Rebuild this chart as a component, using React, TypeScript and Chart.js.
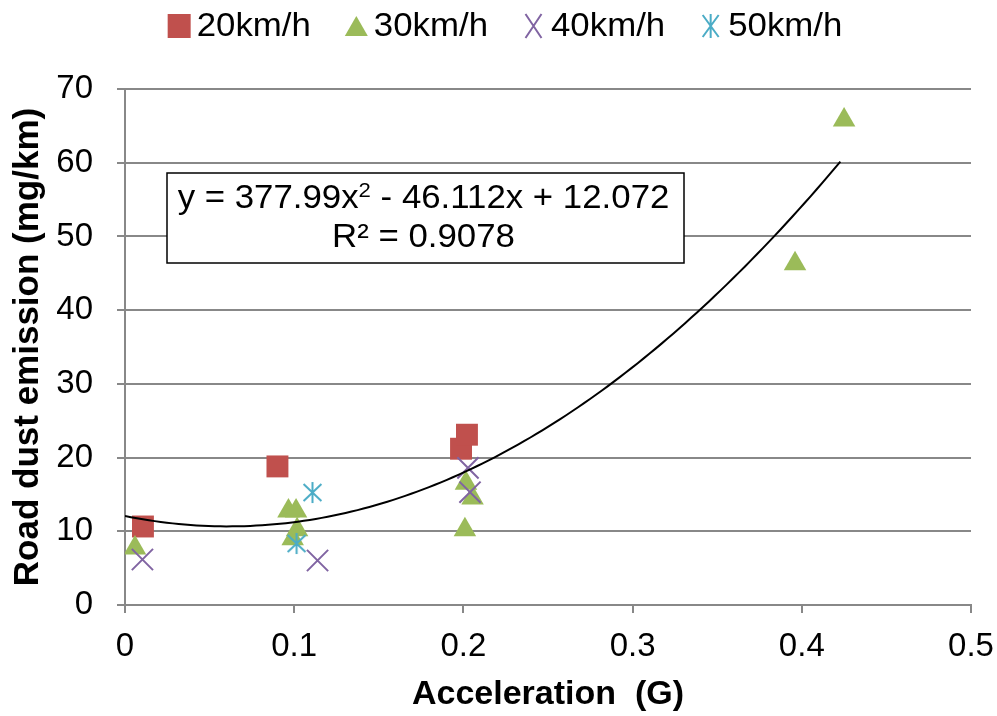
import React, { useEffect, useRef } from 'react';
import { Chart, registerables } from 'chart.js';

Chart.register(...registerables);

// ---- data ----
const SERIES_LABELS = ['20km/h', '30km/h', '40km/h', '50km/h'];
const SERIES_COLORS = ['#C0504D', '#9BBB59', '#8064A2', '#4BACC6'];

const X_20 = [0.0106, 0.0901, 0.1986, 0.2021];
const Y_20 = [10.65, 18.8, 21.2, 23.1];

const X_30 = [0.0059, 0.0966, 0.1011, 0.1017, 0.0991, 0.2015, 0.2054, 0.2009, 0.396, 0.425];
const Y_30 = [7.73, 12.75, 12.75, 10.2, 9.0, 16.5, 14.5, 10.2, 46.3, 65.8];

const X_40 = [0.0103, 0.1138, 0.2027, 0.2039];
const Y_40 = [6.17, 6.04, 18.6, 15.3];

const X_50 = [0.1108, 0.1014];
const Y_50 = [15.26, 8.34];

// trendline: a*x^2 + b*x + c
const TREND_COEFFS = [377.99, -46.112, 12.072];
const TREND_X_RANGE = [0, 0.4228];
const EQ_PARTS = ['y = 377.99x', '2', ' - 46.112x + 12.072'];
const R2_TEXT = 'R² = 0.9078';

const X_TICKS = [0, 0.1, 0.2, 0.3, 0.4, 0.5];
const Y_TICKS = [0, 10, 20, 30, 40, 50, 60, 70];
const X_TITLE = 'Acceleration  (G)';
const Y_TITLE = 'Road dust emission (mg/km)';

const FONT_FAMILY = '"Liberation Sans", Arial, Helvetica, sans-serif';
const GRID_COLOR = '#888888';
const TEXT_STRETCH = 1.055;

function pts(xs: number[], ys: number[]) {
  return xs.map((x, i) => ({ x, y: ys[i] }));
}

function trendPoints() {
  const [a, b, c] = TREND_COEFFS;
  const n = 120;
  const out: { x: number; y: number }[] = [];
  for (let i = 0; i <= n; i++) {
    const x = TREND_X_RANGE[0] + ((TREND_X_RANGE[1] - TREND_X_RANGE[0]) * i) / n;
    out.push({ x, y: a * x * x + b * x + c });
  }
  return out;
}

function makeAsterisk(color: string, size: number, lw: number) {
  const c = document.createElement('canvas');
  c.width = size;
  c.height = size;
  const ctx = c.getContext('2d')!;
  ctx.strokeStyle = color;
  ctx.lineWidth = lw;
  const h = size / 2;
  const r = h - 1;
  ctx.beginPath();
  ctx.moveTo(h, h - r);
  ctx.lineTo(h, h + r);
  ctx.moveTo(h - r * 0.85, h - r * 0.8);
  ctx.lineTo(h + r * 0.85, h + r * 0.8);
  ctx.moveTo(h + r * 0.85, h - r * 0.8);
  ctx.lineTo(h - r * 0.85, h + r * 0.8);
  ctx.stroke();
  return c;
}

function drawLegendMarker(ctx: CanvasRenderingContext2D, i: number, cx: number, cy: number) {
  const col = SERIES_COLORS[i];
  ctx.save();
  ctx.fillStyle = col;
  ctx.strokeStyle = col;
  ctx.lineWidth = 2;
  if (i === 0) {
    ctx.fillRect(cx - 11.5, cy - 12, 23, 24);
  } else if (i === 1) {
    ctx.beginPath();
    ctx.moveTo(cx, cy - 10);
    ctx.lineTo(cx + 11.5, cy + 10);
    ctx.lineTo(cx - 11.5, cy + 10);
    ctx.closePath();
    ctx.fill();
  } else if (i === 2) {
    ctx.beginPath();
    ctx.moveTo(cx - 8, cy - 12);
    ctx.lineTo(cx + 8, cy + 12);
    ctx.moveTo(cx + 8, cy - 12);
    ctx.lineTo(cx - 8, cy + 12);
    ctx.stroke();
  } else {
    ctx.beginPath();
    ctx.moveTo(cx, cy - 12);
    ctx.lineTo(cx, cy + 12);
    ctx.moveTo(cx - 8, cy - 11);
    ctx.lineTo(cx + 8, cy + 11);
    ctx.moveTo(cx + 8, cy - 11);
    ctx.lineTo(cx - 8, cy + 11);
    ctx.stroke();
  }
  ctx.restore();
}

function stretchedText(ctx: CanvasRenderingContext2D, text: string, x: number, y: number) {
  ctx.save();
  ctx.translate(x, y);
  ctx.scale(TEXT_STRETCH, 1);
  ctx.fillText(text, 0, 0);
  ctx.restore();
}

const legendPlugin = {
  id: 'customLegend',
  afterDraw(chart: any) {
    const ctx: CanvasRenderingContext2D = chart.ctx;
    ctx.save();
    ctx.font = `33px ${FONT_FAMILY}`;
    ctx.fillStyle = '#000';
    ctx.textBaseline = 'middle';
    ctx.textAlign = 'left';
    const markerW = 23;
    const gapMT = 6;
    const gapItems = 34;
    const widths = SERIES_LABELS.map((l) => ctx.measureText(l).width * TEXT_STRETCH);
    const total =
      widths.reduce((a, w) => a + markerW + gapMT + w, 0) + gapItems * (SERIES_LABELS.length - 1);
    let x = 505 - total / 2;
    const cy = 26;
    SERIES_LABELS.forEach((label, i) => {
      drawLegendMarker(ctx, i, x + markerW / 2, cy);
      stretchedText(ctx, label, x + markerW + gapMT, cy + 1);
      x += markerW + gapMT + widths[i] + gapItems;
    });
    ctx.restore();
  },
};

const equationPlugin = {
  id: 'equationBox',
  afterDatasetsDraw(chart: any) {
    const ctx: CanvasRenderingContext2D = chart.ctx;
    const ca = chart.chartArea;
    const left = ca.left + 42;
    const top = ca.top + 84;
    const w = 517;
    const h = 90;
    ctx.save();
    ctx.fillStyle = '#ffffff';
    ctx.fillRect(left, top, w, h);
    ctx.strokeStyle = '#000000';
    ctx.lineWidth = 1.5;
    ctx.strokeRect(left, top, w, h);

    const mainFont = `33px ${FONT_FAMILY}`;
    const supFont = `21px ${FONT_FAMILY}`;
    ctx.fillStyle = '#000';
    ctx.textBaseline = 'alphabetic';
    ctx.textAlign = 'left';
    ctx.font = mainFont;
    const w1 = ctx.measureText(EQ_PARTS[0]).width * TEXT_STRETCH;
    const w3 = ctx.measureText(EQ_PARTS[2]).width * TEXT_STRETCH;
    ctx.font = supFont;
    const w2 = ctx.measureText(EQ_PARTS[1]).width * TEXT_STRETCH;
    const cx = left + w / 2 - 2;
    let x = cx - (w1 + w2 + w3) / 2;
    const base1 = top + 35;
    ctx.font = mainFont;
    stretchedText(ctx, EQ_PARTS[0], x, base1);
    x += w1;
    ctx.font = supFont;
    stretchedText(ctx, EQ_PARTS[1], x, base1 - 11);
    x += w2;
    ctx.font = mainFont;
    stretchedText(ctx, EQ_PARTS[2], x, base1);

    const wr = ctx.measureText(R2_TEXT).width * TEXT_STRETCH;
    stretchedText(ctx, R2_TEXT, cx - wr / 2, top + 74);
    ctx.restore();
  },
};

export default function App() {
  const ref = useRef<HTMLCanvasElement | null>(null);

  useEffect(() => {
    document.body.style.margin = '0';
    const canvas = ref.current;
    if (!canvas) return;
    const asterisk = makeAsterisk(SERIES_COLORS[3], 23, 2);

    const chart = new Chart(canvas, {
      type: 'scatter',
      data: {
        datasets: [
          {
            label: 'trend',
            data: trendPoints(),
            showLine: true,
            borderColor: '#000000',
            borderWidth: 2,
            pointRadius: 0,
            fill: false,
            order: 0,
          } as any,
          {
            label: SERIES_LABELS[0],
            data: pts(X_20, Y_20),
            pointStyle: 'rect',
            pointRadius: 15.5,
            backgroundColor: SERIES_COLORS[0],
            borderColor: SERIES_COLORS[0],
            borderWidth: 0,
            order: 4,
          },
          {
            label: SERIES_LABELS[1],
            data: pts(X_30, Y_30),
            pointStyle: 'triangle',
            pointRadius: 13,
            backgroundColor: SERIES_COLORS[1],
            borderColor: SERIES_COLORS[1],
            borderWidth: 0,
            order: 3,
          },
          {
            label: SERIES_LABELS[2],
            data: pts(X_40, Y_40),
            pointStyle: 'crossRot',
            pointRadius: 15,
            backgroundColor: SERIES_COLORS[2],
            borderColor: SERIES_COLORS[2],
            borderWidth: 2,
            order: 2,
          },
          {
            label: SERIES_LABELS[3],
            data: pts(X_50, Y_50),
            pointStyle: asterisk as any,
            pointRadius: 11,
            backgroundColor: SERIES_COLORS[3],
            borderColor: SERIES_COLORS[3],
            borderWidth: 2,
            order: 1,
          },
        ],
      },
      options: {
        animation: false,
        responsive: false,
        events: [],
        layout: { padding: { top: 89, right: 26, left: 0, bottom: 0 } },
        plugins: {
          legend: { display: false },
          tooltip: { enabled: false },
          title: { display: false },
        },
        scales: {
          x: {
            type: 'linear',
            min: X_TICKS[0],
            max: X_TICKS[X_TICKS.length - 1],
            afterBuildTicks: (scale: any) => {
              scale.ticks = X_TICKS.map((v) => ({ value: v }));
            },
            afterFit: (scale: any) => {
              scale.height = 111;
              scale.paddingRight = 20;
              scale.paddingLeft = 0;
            },
            ticks: {
              color: '#000',
              padding: 14,
              font: { family: FONT_FAMILY, size: 33 },
              callback: (v: any) => String(Math.round(Number(v) * 10) / 10),
              maxRotation: 0,
            },
            grid: {
              display: true,
              drawOnChartArea: false,
              drawTicks: true,
              tickLength: 8,
              color: GRID_COLOR,
              lineWidth: 2,
            },
            border: { display: true, color: GRID_COLOR, width: 2 },
            title: {
              display: true,
              text: X_TITLE,
              color: '#000',
              font: { family: FONT_FAMILY, size: 34, weight: 'bold' },
              padding: { top: 0, bottom: 1 },
            },
          },
          y: {
            type: 'linear',
            min: Y_TICKS[0],
            max: Y_TICKS[Y_TICKS.length - 1],
            afterBuildTicks: (scale: any) => {
              scale.ticks = Y_TICKS.map((v) => ({ value: v }));
            },
            afterFit: (scale: any) => {
              scale.width = 125;
            },
            ticks: {
              color: '#000',
              padding: 24,
              font: { family: FONT_FAMILY, size: 33 },
            },
            grid: {
              display: true,
              drawOnChartArea: true,
              drawTicks: true,
              tickLength: 8,
              color: GRID_COLOR,
              lineWidth: 2,
            },
            border: { display: true, color: GRID_COLOR, width: 2 },
            title: {
              display: true,
              text: Y_TITLE,
              color: '#000',
              font: { family: FONT_FAMILY, size: 35, weight: 'bold' },
              padding: { top: 7, bottom: 0 },
            },
          },
        },
      } as any,
      plugins: [legendPlugin, equationPlugin],
    });

    return () => {
      chart.destroy();
    };
  }, []);

  return (
    <div style={{ width: 997, height: 716 }}>
      <canvas ref={ref} width={997} height={716} style={{ display: 'block' }} />
    </div>
  );
}
